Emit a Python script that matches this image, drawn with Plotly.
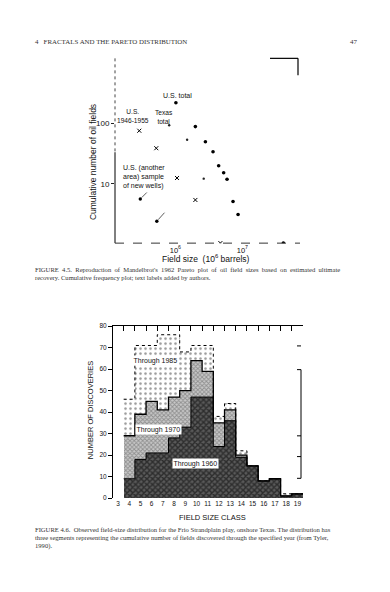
import math
import plotly.graph_objects as go

W, H = 390, 592

# ---------------- Figure 4.5 data (log-log cumulative plot) ----------------
us_total_size = [1.02, 1.99, 2.81, 3.65, 4.43, 5.26, 5.91, 7.26, 8.63, 40.9]
us_total_count = [221, 89, 50, 34, 20, 15.3, 11.9, 5.1, 3.1, 1.04]
texas_size = [0.81, 1.50, 2.65]
texas_count = [94, 54, 12.2]
us4655_size = [0.29, 0.52, 1.06, 1.99, 4.7]
us4655_count = [76, 39, 12.5, 5.4, 1.04]
newwells_size = [0.30, 0.53]
newwells_count = [5.6, 2.4]
x_tick_vals = [1, 10]
x_tick_text = ["10<sup>6</sup>", "10<sup>7</sup>"]
y_tick_vals = [10, 100]
y_tick_text = ["10", "100"]

# ---------------- Figure 4.6 data (field-size histogram) ----------------
classes = list(range(4, 20))
thru1960 = [9, 18, 21, 21, 28, 33, 47, 47, 24, 36, 19, 15, 8, 9, 1, 2]
thru1970 = [29, 39, 45, 41, 47, 50, 64, 59, 35, 41, 20, 15, 8, 9, 1, 2]
thru1985 = [46, 71, 71, 76, 76, 68, 71, 71, 38, 44, 22, 15, 8, 9, 2, 2]
class_ticks = list(range(3, 20))
count_ticks = list(range(0, 81, 10))


def px(x):
    return x / W


def py(y):
    return 1 - y / H


fig = go.Figure()

# ---- top chart traces ----
fig.add_trace(go.Scatter(x=us_total_size, y=us_total_count, mode="markers",
                         marker=dict(symbol="circle", size=3.6, color="black"),
                         xaxis="x", yaxis="y", showlegend=False))
fig.add_trace(go.Scatter(x=texas_size, y=texas_count, mode="markers",
                         marker=dict(symbol="circle", size=2.4, color="#222"),
                         xaxis="x", yaxis="y", showlegend=False))
fig.add_trace(go.Scatter(x=us4655_size, y=us4655_count, mode="markers",
                         marker=dict(symbol="x-thin", size=4, color="black",
                                     line=dict(width=1, color="black")),
                         xaxis="x", yaxis="y", showlegend=False))
fig.add_trace(go.Scatter(x=newwells_size, y=newwells_count, mode="markers",
                         marker=dict(symbol="circle", size=3.4, color="black"),
                         xaxis="x", yaxis="y", showlegend=False))

# ---- histogram traces ----
fig.add_trace(go.Bar(x=classes, y=thru1985, width=1, xaxis="x2", yaxis="y2",
                     marker=dict(color="white", line=dict(width=0),
                                 pattern=dict(shape=".", fgcolor="#333", bgcolor="white",
                                              size=5, solidity=0.2)),
                     showlegend=False))
fig.add_trace(go.Bar(x=classes, y=thru1970, width=1, xaxis="x2", yaxis="y2",
                     marker=dict(color="white", line=dict(width=0),
                                 pattern=dict(shape="x", fgcolor="#555", bgcolor="#c8c8c8",
                                              size=3, solidity=0.5)),
                     showlegend=False))
fig.add_trace(go.Bar(x=classes, y=thru1960, width=1, xaxis="x2", yaxis="y2",
                     marker=dict(color="#222", line=dict(width=0),
                                 pattern=dict(shape="x", fgcolor="#000", bgcolor="#5a5a5a",
                                              size=4, solidity=0.6)),
                     showlegend=False))


# step outlines
def step(vals):
    xs, ys = [], []
    for c, v in zip(classes, vals):
        xs += [c - 0.5, c + 0.5]
        ys += [v, v]
    return xs, ys


for vals, dash, wid in [(thru1985, "dot", 1), (thru1970, "solid", 1.3), (thru1960, "solid", 1)]:
    sx, sy = step(vals)
    fig.add_trace(go.Scatter(x=sx, y=sy, mode="lines", line=dict(color="black", width=wid, dash=dash),
                             xaxis="x2", yaxis="y2", showlegend=False, hoverinfo="skip"))

# dummy trace for top boundary-tick axis
fig.add_trace(go.Scatter(x=[None], y=[None], xaxis="x3", yaxis="y2", showlegend=False, hoverinfo="skip"))

sans = "Liberation Sans"
serif = "Liberation Serif"

fig.update_layout(
    width=W, height=H, margin=dict(l=0, r=0, t=0, b=0),
    paper_bgcolor="white", plot_bgcolor="white",
    barmode="overlay", bargap=0,
    font=dict(family=sans, size=8, color="#111"),
    xaxis=dict(domain=[px(115), px(300)], anchor="y", type="log", range=[-0.9, 1.86],
               tickvals=x_tick_vals, ticktext=x_tick_text, showline=False, showgrid=False,
               zeroline=False, ticks="", tickfont=dict(size=7.5), ticklabelstandoff=1),
    yaxis=dict(domain=[py(242), py(55)], anchor="x", type="log", range=[0.016, 3.082],
               tickvals=y_tick_vals, ticktext=y_tick_text, showline=False, showgrid=False,
               zeroline=False, ticks="outside", ticklen=3, tickcolor="#222", tickfont=dict(size=8)),
    xaxis2=dict(domain=[px(113), px(303)], anchor="y2", range=[2.55, 19.5],
                tickvals=class_ticks, showline=False, showgrid=False, zeroline=False,
                ticks="", tickfont=dict(size=6.5, family=sans)),
    xaxis3=dict(overlaying="x2", side="top", anchor="y2", range=[2.55, 19.5],
                tickvals=[c - 0.5 for c in class_ticks] + [19.5], showticklabels=False,
                showline=True, linecolor="black", linewidth=1, ticks="inside", ticklen=5,
                tickcolor="black", showgrid=False, zeroline=False),
    yaxis2=dict(domain=[py(500), py(326)], anchor="x2", range=[0, 80],
                tickvals=count_ticks, showline=True, linecolor="black", linewidth=1,
                ticks="outside", ticklen=4, tickcolor="black", showgrid=False, zeroline=False,
                tickfont=dict(size=6.5, family=sans)),
)

shapes = []
# top chart axes (dotted / dashed look of the scan)
shapes.append(dict(type="line", xref="paper", yref="paper", x0=px(115), x1=px(115), y0=py(150), y1=py(242),
                   line=dict(color="black", width=1)))
shapes.append(dict(type="line", xref="paper", yref="paper", x0=px(115), x1=px(115), y0=py(55), y1=py(150),
                   line=dict(color="#444", width=1, dash="dot")))
shapes.append(dict(type="line", xref="paper", yref="paper", x0=px(115), x1=px(300), y0=py(242), y1=py(242),
                   line=dict(color="#333", width=1, dash="dash")))
# corner bracket top-right
shapes.append(dict(type="line", xref="paper", yref="paper", x0=px(270), x1=px(298), y0=py(55), y1=py(55),
                   line=dict(color="black", width=1.2)))
shapes.append(dict(type="line", xref="paper", yref="paper", x0=px(298), x1=px(298), y0=py(55), y1=py(72),
                   line=dict(color="black", width=1.2)))
# partial right frame of histogram
shapes.append(dict(type="line", xref="paper", yref="paper", x0=px(301), x1=px(301), y0=py(370), y1=py(480),
                   line=dict(color="black", width=1)))
for yy in [346, 370, 437, 458, 480]:
    shapes.append(dict(type="line", xref="paper", yref="paper", x0=px(297), x1=px(301), y0=py(yy), y1=py(yy),
                       line=dict(color="black", width=1)))
fig.update_layout(shapes=shapes)

ann = []


def txt(x, y, s, size=7, family=sans, xanchor="left", align="left", angle=0, color="#111"):
    ann.append(dict(x=px(x), y=py(y), xref="paper", yref="paper", text=s, showarrow=False,
                    xanchor=xanchor, yanchor="middle", align=align, textangle=angle,
                    font=dict(size=size, family=family, color=color)))


def widen(s):
    return s.replace(" ", "&nbsp; ")


# page header
txt(33, 38, "4&nbsp;&nbsp; FRACTALS AND THE PARETO DISTRIBUTION", size=6.9, family=serif, color="#333")
txt(360, 38, "47", size=7, family=serif, xanchor="right", color="#333")

# top chart labels
txt(177, 93, "U.S. total", size=7, xanchor="center", align="center")
txt(164, 114, "Texas<br>total", size=6.6, xanchor="center", align="center")
txt(133, 113, "U.S.<br>1946-1955", size=6.6, xanchor="center", align="center")
txt(121, 175, "U.S. (another<br>area) sample<br>of new wells)", size=7, xanchor="left")
txt(93, 160, "Cumulative number of oil fields", size=8.5, xanchor="center", align="center", angle=-90)
txt(206, 258, "Field size  (10<sup>6</sup> barrels)", size=8.5, xanchor="center", align="center")

# leader lines to sample points (annotation x/y on log axes are given in log10 units)
for sx, sy, dx, dy in [(newwells_size[0], newwells_count[0], 8, -8), (newwells_size[1], newwells_count[1], 9, -10)]:
    ann.append(dict(x=math.log10(sx), y=math.log10(sy), xref="x", yref="y", text="", showarrow=True,
                    arrowhead=0, arrowwidth=0.8, arrowcolor="#333", ax=dx, ay=dy, standoff=2))

# caption 4.5
txt(33, 269, widen("FIGURE 4.5.") + "&nbsp; " + widen("Reproduction of Mandelbrot's 1962 Pareto plot of oil field sizes based on estimated ultimate"),
    size=6.6, family=serif, color="#333")
txt(33, 277, "recovery. Cumulative frequency plot; text labels added by authors.", size=6.6, family=serif, color="#333")

# histogram labels
for xv, yv, s in [(6.3, 64, "Through 1985"), (6.6, 32, "Through 1970"), (9.9, 16, "Through 1960")]:
    ann.append(dict(x=xv, y=yv, xref="x2", yref="y2", text=s, showarrow=False,
                    font=dict(size=7, family=sans, color="#111"), bgcolor="white", borderpad=0.5))
txt(90, 411, "NUMBER OF DISCOVERIES", size=7.5, xanchor="center", align="center", angle=-90)
txt(213, 520, "FIELD SIZE CLASS", size=7.5, xanchor="center", align="center")

# caption 4.6
txt(33, 532, "FIGURE 4.6.&nbsp; Observed field-size distribution for the Frio Strandplain play, onshore Texas. The distribution has",
    size=6.6, family=serif, color="#333")
txt(33, 540, "three segments representing the cumulative number of fields discovered through the specified year (from Tyler,",
    size=6.6, family=serif, color="#333")
txt(33, 548, "1990).", size=6.6, family=serif, color="#333")

fig.update_layout(annotations=ann)

fig.write_html("out.html", config={"displayModeBar": False},
               post_script="document.body.style.margin='0';document.body.style.overflow='hidden';")
